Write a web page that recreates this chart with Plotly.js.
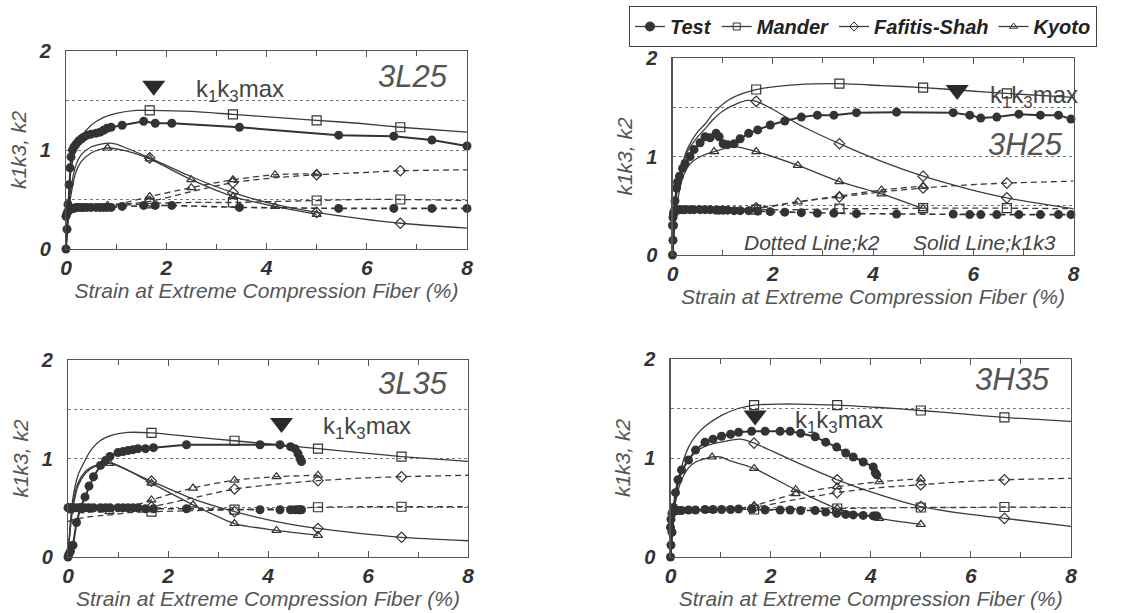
<!DOCTYPE html>
<html><head><meta charset="utf-8">
<script src="https://cdn.plot.ly/plotly-3.0.1.min.js"></script>
<style>html,body{margin:0;padding:0;background:#fff}#chart{width:1128px;height:613px}</style>
</head><body><div id="chart"></div>
<script>
// ---------- 3L25 ----------
const testX_3L25 = [0, 0.02, 0.04, 0.06, 0.08, 0.1, 0.13, 0.16, 0.2, 0.25, 0.3, 0.35, 0.42, 0.5, 0.6, 0.68, 0.75, 0.82, 0.9, 1.12, 1.55, 1.78, 2.11, 3.46, 5.44, 6.54, 7.3, 8.0];
const testK1K3_3L25 = [0, 0.2, 0.45, 0.65, 0.82, 0.93, 1.0, 1.03, 1.06, 1.09, 1.11, 1.13, 1.15, 1.16, 1.17, 1.18, 1.2, 1.22, 1.23, 1.25, 1.29, 1.27, 1.27, 1.23, 1.15, 1.14, 1.10, 1.04];
const testK2_3L25 = [0.33, 0.36, 0.38, 0.39, 0.40, 0.41, 0.41, 0.41, 0.42, 0.42, 0.42, 0.42, 0.42, 0.42, 0.42, 0.42, 0.42, 0.42, 0.42, 0.43, 0.44, 0.44, 0.44, 0.42, 0.41, 0.41, 0.41, 0.41];
const manderX_3L25 = [0, 0.05, 0.1, 0.2, 0.3, 0.5, 0.75, 1.0, 1.4, 1.67, 2.5, 3.33, 4.17, 5.0, 5.83, 6.67, 8.0];
const manderK1K3_3L25 = [0, 0.5, 0.8, 1.02, 1.13, 1.25, 1.33, 1.37, 1.40, 1.40, 1.39, 1.36, 1.33, 1.30, 1.27, 1.23, 1.18];
const manderK2_3L25 = [0.40, 0.41, 0.42, 0.42, 0.43, 0.43, 0.44, 0.44, 0.45, 0.46, 0.47, 0.47, 0.48, 0.49, 0.50, 0.50, 0.49];
const fafitisX_3L25 = [0, 0.05, 0.1, 0.2, 0.3, 0.5, 0.7, 0.85, 1.0, 1.3, 1.67, 2.5, 3.33, 4.17, 5.0, 5.83, 6.67, 8.0];
const fafitisK1K3_3L25 = [0, 0.4, 0.62, 0.85, 0.95, 1.03, 1.06, 1.07, 1.06, 1.0, 0.92, 0.73, 0.57, 0.45, 0.37, 0.31, 0.26, 0.21];
const fafitisK2_3L25 = [0.42, 0.42, 0.42, 0.43, 0.43, 0.43, 0.44, 0.44, 0.45, 0.46, 0.48, 0.58, 0.67, 0.72, 0.75, 0.77, 0.79, 0.80];
const kyotoX_3L25 = [0, 0.05, 0.1, 0.2, 0.3, 0.5, 0.7, 0.83, 1.2, 1.67, 2.5, 3.33, 4.17, 5.0];
const kyotoK1K3_3L25 = [0, 0.35, 0.55, 0.78, 0.88, 0.97, 1.01, 1.02, 0.99, 0.91, 0.70, 0.53, 0.43, 0.35];
const kyotoK2_3L25 = [0.42, 0.42, 0.42, 0.42, 0.43, 0.43, 0.44, 0.44, 0.47, 0.53, 0.62, 0.70, 0.75, 0.76];

// ---------- 3H25 ----------
const testX_3H25 = [0, 0.01, 0.02, 0.03, 0.05, 0.08, 0.1, 0.14, 0.2, 0.25, 0.35, 0.43, 0.55, 0.65, 0.75, 0.87, 0.93, 1.01, 1.1, 1.23, 1.35, 1.52, 1.7, 1.95, 2.24, 2.57, 2.89, 3.22, 3.67, 4.47, 5.6, 5.93, 6.15, 6.47, 6.91, 7.34, 7.7, 7.95];
const testK1K3_3H25 = [0, 0.15, 0.3, 0.42, 0.55, 0.68, 0.74, 0.8, 0.88, 0.93, 1.0, 1.07, 1.14, 1.2, 1.19, 1.235, 1.2, 1.13, 1.12, 1.13, 1.18, 1.235, 1.27, 1.32, 1.36, 1.40, 1.42, 1.42, 1.445, 1.45, 1.445, 1.42, 1.39, 1.40, 1.43, 1.42, 1.42, 1.38];
const testK2_3H25 = [0.30, 0.38, 0.42, 0.44, 0.45, 0.46, 0.46, 0.46, 0.46, 0.46, 0.46, 0.46, 0.46, 0.46, 0.46, 0.455, 0.455, 0.455, 0.455, 0.45, 0.45, 0.45, 0.445, 0.44, 0.435, 0.43, 0.425, 0.425, 0.42, 0.415, 0.415, 0.41, 0.41, 0.41, 0.41, 0.41, 0.41, 0.41];
const manderX_3H25 = [0, 0.05, 0.1, 0.2, 0.3, 0.5, 0.65, 0.8, 1.08, 1.3, 1.67, 2.5, 3.33, 4.17, 5.0, 5.83, 6.67, 8.0];
const manderK1K3_3H25 = [0, 0.45, 0.7, 0.93, 1.08, 1.25, 1.33, 1.43, 1.56, 1.62, 1.68, 1.73, 1.74, 1.72, 1.70, 1.67, 1.64, 1.60];
const manderK2_3H25 = [0.44, 0.44, 0.44, 0.45, 0.45, 0.45, 0.45, 0.45, 0.45, 0.46, 0.46, 0.46, 0.47, 0.47, 0.475, 0.475, 0.475, 0.47];
const fafitisX_3H25 = [0, 0.05, 0.1, 0.2, 0.3, 0.5, 0.65, 0.8, 1.0, 1.3, 1.5, 1.67, 2.0, 2.5, 3.33, 4.17, 5.0, 5.83, 6.67, 8.0];
const fafitisK1K3_3H25 = [0, 0.45, 0.68, 0.9, 1.05, 1.2, 1.28, 1.37, 1.46, 1.54, 1.57, 1.56, 1.48, 1.33, 1.13, 0.95, 0.80, 0.68, 0.58, 0.47];
const fafitisK2_3H25 = [0.44, 0.44, 0.44, 0.44, 0.44, 0.44, 0.45, 0.45, 0.45, 0.46, 0.47, 0.48, 0.50, 0.54, 0.59, 0.64, 0.68, 0.71, 0.73, 0.75];
const kyotoX_3H25 = [0, 0.05, 0.1, 0.2, 0.36, 0.6, 0.83, 1.23, 1.67, 2.5, 3.33, 4.17, 5.0];
const kyotoK1K3_3H25 = [0, 0.35, 0.55, 0.78, 0.93, 1.01, 1.05, 1.10, 1.05, 0.91, 0.745, 0.62, 0.47];
const kyotoK2_3H25 = [0.44, 0.44, 0.44, 0.44, 0.44, 0.45, 0.45, 0.46, 0.47, 0.54, 0.60, 0.66, 0.70];

// ---------- 3L35 ----------
const testX_3L35 = [0, 0.02, 0.05, 0.1, 0.17, 0.25, 0.34, 0.42, 0.51, 0.65, 0.75, 0.84, 1.0, 1.1, 1.2, 1.3, 1.4, 1.55, 1.71, 2.37, 3.84, 4.24, 4.45, 4.54, 4.6, 4.64, 4.67];
const testK1K3_3L35 = [0, 0.03, 0.06, 0.12, 0.35, 0.5, 0.61, 0.72, 0.815, 0.93, 0.98, 1.02, 1.06, 1.07, 1.08, 1.09, 1.10, 1.10, 1.11, 1.14, 1.14, 1.14, 1.12, 1.10, 1.05, 1.0, 0.97];
const testK2_3L35 = [0.5, 0.5, 0.5, 0.5, 0.5, 0.5, 0.5, 0.5, 0.5, 0.5, 0.5, 0.5, 0.5, 0.5, 0.5, 0.5, 0.5, 0.49, 0.49, 0.49, 0.48, 0.48, 0.48, 0.48, 0.48, 0.48, 0.48];
const manderX_3L35 = [0, 0.05, 0.1, 0.2, 0.31, 0.45, 0.64, 0.9, 1.2, 1.67, 2.5, 3.33, 4.17, 5.0, 5.83, 6.67, 8.0];
const manderK1K3_3L35 = [0, 0.35, 0.6, 0.83, 0.95, 1.08, 1.18, 1.24, 1.265, 1.26, 1.22, 1.18, 1.14, 1.10, 1.06, 1.02, 0.97];
const manderK2_3L35 = [0.36, 0.37, 0.38, 0.39, 0.40, 0.41, 0.42, 0.43, 0.45, 0.46, 0.47, 0.48, 0.49, 0.505, 0.51, 0.51, 0.51];
const fafitisX_3L35 = [0, 0.05, 0.1, 0.2, 0.35, 0.5, 0.7, 0.9, 1.2, 1.67, 2.5, 3.33, 4.17, 5.0, 5.83, 6.67, 8.0];
const fafitisK1K3_3L35 = [0, 0.35, 0.55, 0.75, 0.87, 0.92, 0.95, 0.95, 0.88, 0.77, 0.59, 0.46, 0.36, 0.29, 0.24, 0.20, 0.165];
const fafitisK2_3L35 = [0.45, 0.45, 0.45, 0.45, 0.46, 0.46, 0.46, 0.47, 0.48, 0.51, 0.60, 0.69, 0.74, 0.775, 0.80, 0.815, 0.83];
const kyotoX_3L35 = [0, 0.05, 0.1, 0.2, 0.35, 0.5, 0.83, 1.2, 1.67, 2.5, 3.33, 4.17, 5.0];
const kyotoK1K3_3L35 = [0, 0.3, 0.5, 0.72, 0.85, 0.91, 0.95, 0.88, 0.75, 0.53, 0.34, 0.27, 0.22];
const kyotoK2_3L35 = [0.45, 0.45, 0.45, 0.45, 0.45, 0.46, 0.46, 0.50, 0.58, 0.70, 0.78, 0.815, 0.83];

// ---------- 3H35 ----------
const testX_3H35 = [0, 0.01, 0.03, 0.06, 0.1, 0.15, 0.22, 0.36, 0.5, 0.69, 0.85, 1.02, 1.2, 1.36, 1.62, 1.89, 2.19, 2.39, 2.6, 2.89, 3.1, 3.32, 3.5, 3.65, 3.85, 4.05, 4.09, 4.12];
const testK1K3_3H35 = [0, 0.12, 0.25, 0.5, 0.65, 0.78, 0.88, 0.98, 1.08, 1.16, 1.19, 1.22, 1.24, 1.26, 1.27, 1.27, 1.27, 1.27, 1.25, 1.215, 1.16, 1.11, 1.05, 1.01, 0.96, 0.91, 0.85, 0.83];
const testK2_3H35 = [0.3, 0.38, 0.44, 0.46, 0.47, 0.47, 0.47, 0.475, 0.475, 0.48, 0.48, 0.48, 0.48, 0.485, 0.485, 0.475, 0.475, 0.475, 0.47, 0.47, 0.455, 0.44, 0.43, 0.425, 0.42, 0.415, 0.415, 0.415];
const manderX_3H35 = [0, 0.05, 0.1, 0.2, 0.36, 0.5, 0.69, 1.02, 1.35, 1.67, 2.2, 2.5, 3.33, 4.17, 5.0, 5.83, 6.67, 8.0];
const manderK1K3_3H35 = [0, 0.35, 0.6, 0.87, 1.11, 1.22, 1.32, 1.43, 1.50, 1.535, 1.545, 1.545, 1.535, 1.51, 1.48, 1.445, 1.41, 1.37];
const manderK2_3H35 = [0.45, 0.45, 0.45, 0.46, 0.46, 0.46, 0.47, 0.47, 0.48, 0.48, 0.48, 0.485, 0.49, 0.495, 0.50, 0.50, 0.505, 0.50];
const fafitisX_3H35 = [0, 0.05, 0.1, 0.2, 0.36, 0.5, 0.7, 1.0, 1.39, 1.67, 2.5, 3.33, 4.17, 5.0, 5.83, 6.67, 8.0];
const fafitisK1K3_3H35 = [0, 0.38, 0.6, 0.82, 0.98, 1.06, 1.12, 1.16, 1.19, 1.15, 0.96, 0.78, 0.63, 0.51, 0.44, 0.39, 0.31];
const fafitisK2_3H35 = [0.45, 0.45, 0.45, 0.46, 0.46, 0.46, 0.47, 0.47, 0.48, 0.50, 0.58, 0.65, 0.70, 0.73, 0.76, 0.78, 0.795];
const kyotoX_3H35 = [0, 0.05, 0.1, 0.2, 0.36, 0.5, 0.83, 1.0, 1.2, 1.67, 2.5, 3.33, 4.17, 5.0];
const kyotoK1K3_3H35 = [0, 0.33, 0.55, 0.75, 0.9, 0.96, 1.01, 1.01, 0.97, 0.895, 0.68, 0.49, 0.39, 0.33];
const kyotoK2_3H35 = [0.45, 0.45, 0.45, 0.45, 0.46, 0.46, 0.47, 0.47, 0.48, 0.52, 0.64, 0.71, 0.76, 0.79];

// model marker positions (strain)
const manderMarks = [1.67, 3.33, 5.0, 6.67];
const fafitisMarks = [1.67, 3.33, 5.0, 6.67];
const kyotoMarks = [0.83, 1.67, 2.5, 3.33, 4.17, 5.0];

// k1k3max indicator per specimen
const specimens = ['3L25', '3H25', '3L35', '3H35'];
const kmaxStrain = [1.75, 5.68, 4.27, 1.69];
const kmaxValue = [1.65, 1.675, 1.36, 1.43];

const seriesNames = ['Test', 'Mander', 'Fafitis-Shah', 'Kyoto'];
const xTicks = [0, 2, 4, 6, 8];
const yTicks = [0, 1, 2];
const yGrid = [0.5, 1.5];

// ---------- build ----------
const panels = [
  {test:[testX_3L25, testK1K3_3L25, testK2_3L25], mander:[manderX_3L25, manderK1K3_3L25, manderK2_3L25], fafitis:[fafitisX_3L25, fafitisK1K3_3L25, fafitisK2_3L25], kyoto:[kyotoX_3L25, kyotoK1K3_3L25, kyotoK2_3L25]},
  {test:[testX_3H25, testK1K3_3H25, testK2_3H25], mander:[manderX_3H25, manderK1K3_3H25, manderK2_3H25], fafitis:[fafitisX_3H25, fafitisK1K3_3H25, fafitisK2_3H25], kyoto:[kyotoX_3H25, kyotoK1K3_3H25, kyotoK2_3H25]},
  {test:[testX_3L35, testK1K3_3L35, testK2_3L35], mander:[manderX_3L35, manderK1K3_3L35, manderK2_3L35], fafitis:[fafitisX_3L35, fafitisK1K3_3L35, fafitisK2_3L35], kyoto:[kyotoX_3L35, kyotoK1K3_3L35, kyotoK2_3L35]},
  {test:[testX_3H35, testK1K3_3H35, testK2_3H35], mander:[manderX_3H35, manderK1K3_3H35, manderK2_3H35], fafitis:[fafitisX_3H35, fafitisK1K3_3H35, fafitisK2_3H35], kyoto:[kyotoX_3H35, kyotoK1K3_3H35, kyotoK2_3H35]}
];

const FONT = 'Liberation Sans, Arial, Helvetica, sans-serif';
const DARK = '#333333';
const LINE = '#3c3c3c';
const DASH = '6px,4px';

const modelStyle = {
  mander: {symbol:'square-open', size:9, marks:manderMarks},
  fafitis: {symbol:'diamond-open', size:8, marks:fafitisMarks},
  kyoto: {symbol:'triangle-up-open', size:8, marks:kyotoMarks}
};

function pick(xs, ys, marks) {
  const ox = [], oy = [];
  xs.forEach((v, i) => { if (marks.some(m => Math.abs(m - v) < 1e-9)) { ox.push(v); oy.push(ys[i]); } });
  return [ox, oy];
}

const traces = [];
panels.forEach((p, i) => {
  const xa = i === 0 ? 'x' : 'x' + (i + 1);
  const ya = i === 0 ? 'y' : 'y' + (i + 1);
  const base = {xaxis:xa, yaxis:ya, showlegend:false, cliponaxis:false, hoverinfo:'skip'};
  ['mander', 'fafitis', 'kyoto'].forEach(m => {
    const [mx, mk13, mk2] = p[m];
    const st = modelStyle[m];
    traces.push(Object.assign({}, base, {x:mx, y:mk13, mode:'lines', line:{color:LINE, width:1.3, shape:'spline', smoothing:0.7}}));
    traces.push(Object.assign({}, base, {x:mx, y:mk2, mode:'lines', line:{color:LINE, width:1.3, dash:DASH, shape:'spline', smoothing:0.7}}));
    [mk13, mk2].forEach(yy => {
      const [px, py] = pick(mx, yy, st.marks);
      traces.push(Object.assign({}, base, {x:px, y:py, mode:'markers', marker:{symbol:st.symbol, size:st.size, color:DARK, line:{color:DARK, width:1.2}}}));
    });
  });
  const [tx, t13, t2] = p.test;
  traces.push(Object.assign({}, base, {x:tx, y:t13, mode:'lines+markers', line:{color:DARK, width:2}, marker:{symbol:'circle', size:9, color:DARK}}));
  traces.push(Object.assign({}, base, {x:tx, y:t2, mode:'lines+markers', line:{color:DARK, width:1.6, dash:DASH}, marker:{symbol:'circle', size:9, color:DARK}}));
  traces.push(Object.assign({}, base, {x:[kmaxStrain[i]], y:[kmaxValue[i]], mode:'markers', marker:{symbol:'triangle-down', size:20, color:'#2a2a2a'}}));
});

// legend entries
const legSym = ['circle', 'square-open', 'diamond-open', 'triangle-up-open'];
seriesNames.forEach((n, k) => {
  traces.push({x:[null], y:[null], xaxis:'x', yaxis:'y', name:n, mode:'lines+markers', showlegend:true,
    line:{color:LINE, width:1.3}, marker:{symbol:legSym[k], size:k === 0 ? 9 : 7, color:DARK, line:{color:DARK, width:1}}});
});

const doms = [
  {x:[66/1128, 467/1128], y:[1 - 249/613, 1 - 51/613]},
  {x:[672.5/1128, 1073.5/1128], y:[1 - 255/613, 1 - 58/613]},
  {x:[68/1128, 468/1128], y:[1 - 557/613, 1 - 360/613]},
  {x:[670.5/1128, 1071/1128], y:[1 - 557/613, 1 - 359/613]}
];

const layout = {
  width:1128, height:613, autosize:false,
  margin:{l:0, r:0, t:0, b:0},
  paper_bgcolor:'#fff', plot_bgcolor:'#fff',
  font:{family:FONT, color:DARK},
  showlegend:true,
  legend:{orientation:'h', x:629/1128, y:1 - 6/613, xanchor:'left', yanchor:'top',
    bordercolor:'#444', borderwidth:1, bgcolor:'#fff',
    font:{family:FONT, size:20, style:'italic', weight:'bold', color:'#222'}, itemwidth:30, tracegroupgap:0},
  annotations:[]
};

const labelPos = [[6.93, 1.74], [7.05, 1.12], [6.9, 1.76], [6.84, 1.79]];
const kmaxTextPos = [[2.55, 1.6], [6.3, 1.61], [5.05, 1.31], [2.45, 1.37]];

doms.forEach((d, i) => {
  const sfx = i === 0 ? '' : String(i + 1);
  const xa = 'x' + sfx, ya = 'y' + sfx;
  layout['xaxis' + sfx] = {
    domain:d.x, range:[0, 8], anchor:ya, tickvals:xTicks, ticks:'inside', ticklen:6, tickcolor:'#555', tickwidth:1,
    minor:{dtick:1, tick0:0, ticks:'inside', ticklen:5, tickcolor:'#555'},
    showline:true, mirror:'ticks', linecolor:'#555', linewidth:1.2, showgrid:false, zeroline:false,
    tickfont:{family:FONT, size:21, color:'#333', weight:'bold', style:'italic'},
    title:{text:'Strain at Extreme Compression Fiber (%)', font:{family:FONT, size:21, style:'italic', color:'#555'}, standoff:0},
    fixedrange:true
  };
  layout['yaxis' + sfx] = {
    domain:d.y, range:[0, 2], anchor:xa, tickvals:yTicks, ticks:'',
    showgrid:true, griddash:'dot', gridcolor:'#777', gridwidth:1, zeroline:false,
    minor:{tickvals:yGrid, ticks:'', showgrid:true, griddash:'dot', gridcolor:'#777', gridwidth:1},
    showline:true, mirror:true, linecolor:'#555', linewidth:1.2,
    tickfont:{family:FONT, size:20, color:'#333', weight:'bold', style:'italic'}, ticklabelstandoff:10,
    title:{text:'k1k3, k2', font:{family:FONT, size:21, style:'italic', color:'#555'}, standoff:6},
    fixedrange:true
  };
  layout.annotations.push({xref:xa, yref:ya, x:labelPos[i][0], y:labelPos[i][1], text:specimens[i], showarrow:false,
    font:{family:FONT, size:31, style:'italic', color:'#555'}});
  layout.annotations.push({xref:xa, yref:ya, x:kmaxTextPos[i][0], y:kmaxTextPos[i][1], xanchor:'left', text:'k<sub>1</sub>k<sub>3</sub>max', showarrow:false,
    font:{family:FONT, size:24, color:'#444'}});
});
layout.annotations.push({xref:'x2', yref:'y2', x:2.78, y:0.13, text:'Dotted Line;k2', showarrow:false, font:{family:FONT, size:21, style:'italic', color:'#444'}});
layout.annotations.push({xref:'x2', yref:'y2', x:6.22, y:0.13, text:'Solid Line;k1k3', showarrow:false, font:{family:FONT, size:21, style:'italic', color:'#444'}});

Plotly.newPlot('chart', traces, layout, {displayModeBar:false, staticPlot:true});
</script>
</body></html>
